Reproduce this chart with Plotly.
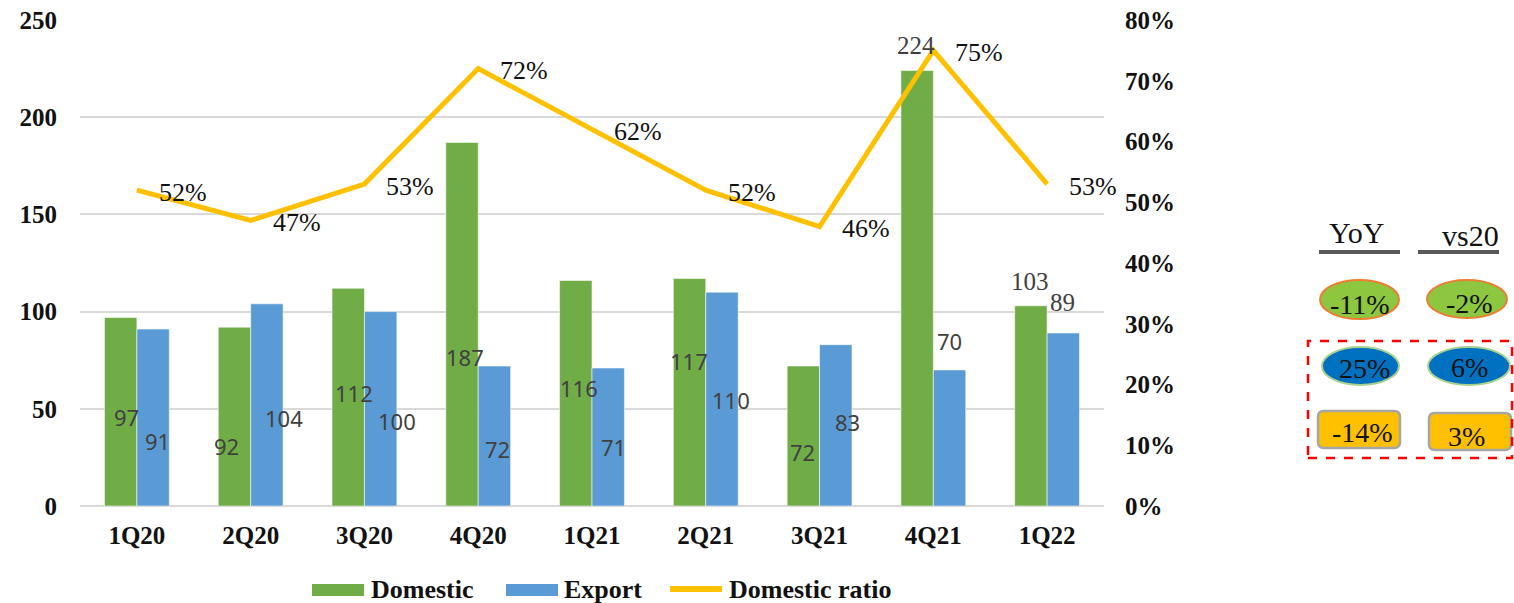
import plotly.graph_objects as go

# Quarterly volumes and domestic share
quarters = ["1Q20", "2Q20", "3Q20", "4Q20", "1Q21", "2Q21", "3Q21", "4Q21", "1Q22"]
domestic = [97, 92, 112, 187, 116, 117, 72, 224, 103]
export = [91, 104, 100, 72, 71, 110, 83, 70, 89]
domestic_ratio = [0.52, 0.47, 0.53, 0.72, 0.62, 0.52, 0.46, 0.75, 0.53]

# Side panel: changes vs last year and vs 2020
panel_headers = ["YoY", "vs20"]
domestic_change = ["-11%", "-2%"]
export_change = ["25%", "6%"]
ratio_change = ["-14%", "3%"]

# Placement of the value labels (height on left axis, pixel shift from category centre)
dom_label_y = [45.8, 30.9, 58.1, 76.6, 60.7, 74.6, 27.8, 237.1, 115.7]
dom_label_dx = [-10, -24, -10, -13, -13, -17, -17, -17, -17]
exp_label_y = [33.4, 45.3, 43.7, 29.3, 30.4, 54.5, 43.2, 84.9, 104.9]
exp_label_dx = [21, 33, 33, 19, 21, 25, 28, 16, 15]
# Labels set outside the bars use the serif face
dom_label_serif = [False, False, False, False, False, False, False, True, True]
exp_label_serif = [False, False, False, False, False, False, False, False, True]

GREEN = "#70AD47"
BLUE = "#5B9BD5"
GOLD = "#FFC000"
SERIF = "Liberation Serif"
SANS = "Noto Sans"

W, H = 1514, 603
ML, MR, MT, MB = 80, 410, 20, 97
PW, PH = W - ML - MR, H - MT - MB


def px(x):
    return (x - ML) / PW


def py(y):
    return (H - MB - y) / PH


def value_font(serif):
    if serif:
        return dict(family=SERIF, size=25, color="#404040")
    return dict(family=SANS, size=22, color="#404040")


fig = go.Figure()
fig.add_trace(go.Bar(
    x=quarters, y=domestic, name="Domestic",
    marker=dict(color=GREEN, line=dict(color="rgba(255,255,255,0.55)", width=1)),
))
fig.add_trace(go.Bar(
    x=quarters, y=export, name="Export",
    marker=dict(color=BLUE, line=dict(color="rgba(255,255,255,0.55)", width=1)),
))
fig.add_trace(go.Scatter(
    x=quarters, y=domestic_ratio, name="Domestic ratio", yaxis="y2",
    mode="lines", line=dict(color=GOLD, width=5),
))

annotations = []
for q, v, ly, dx, sf in zip(quarters, domestic, dom_label_y, dom_label_dx, dom_label_serif):
    annotations.append(dict(x=q, y=ly, xref="x", yref="y", xshift=dx, text=str(v),
                            xanchor="center", yanchor="middle", showarrow=False,
                            font=value_font(sf)))
for q, v, ly, dx, sf in zip(quarters, export, exp_label_y, exp_label_dx, exp_label_serif):
    annotations.append(dict(x=q, y=ly, xref="x", yref="y", xshift=dx, text=str(v),
                            xanchor="center", yanchor="middle", showarrow=False,
                            font=value_font(sf)))
for q, r in zip(quarters, domestic_ratio):
    annotations.append(dict(x=q, y=r, xref="x", yref="y2", xshift=46, yshift=-2,
                            text=f"{round(r * 100)}%", showarrow=False,
                            xanchor="center", yanchor="middle",
                            font=dict(family=SERIF, size=26, color="#111111")))

shapes = []

# Custom legend along the bottom
legend_font = dict(family=SERIF, size=26, color="#111111", weight="bold")
shapes.append(dict(type="rect", xref="paper", yref="paper", x0=px(312), x1=px(364),
                   y0=py(596), y1=py(584), fillcolor=GREEN, line=dict(width=0)))
annotations.append(dict(x=px(369), y=py(590), xref="paper", yref="paper", text="Domestic",
                        xanchor="left", yanchor="middle", showarrow=False, font=legend_font))
shapes.append(dict(type="rect", xref="paper", yref="paper", x0=px(506), x1=px(558),
                   y0=py(596), y1=py(584), fillcolor=BLUE, line=dict(width=0)))
annotations.append(dict(x=px(562), y=py(590), xref="paper", yref="paper", text="Export",
                        xanchor="left", yanchor="middle", showarrow=False, font=legend_font))
shapes.append(dict(type="line", xref="paper", yref="paper", x0=px(670), x1=px(722),
                   y0=py(589), y1=py(589), line=dict(color=GOLD, width=6)))
annotations.append(dict(x=px(727), y=py(590), xref="paper", yref="paper", text="Domestic ratio",
                        xanchor="left", yanchor="middle", showarrow=False, font=legend_font))

# Side panel
panel_font = dict(family=SERIF, size=28, color="#111111")
header_pos = [(1356, 232), (1470, 235)]
underline_x = [(1319, 1400), (1418, 1499)]
for h, (hx, hy), (ux0, ux1) in zip(panel_headers, header_pos, underline_x):
    annotations.append(dict(x=px(hx), y=py(hy), xref="paper", yref="paper", text=h,
                            xanchor="center", yanchor="middle", showarrow=False,
                            font=dict(family=SERIF, size=30, color="#111111")))
    shapes.append(dict(type="line", xref="paper", yref="paper", x0=px(ux0), x1=px(ux1),
                       y0=py(252), y1=py(252), line=dict(color="#595959", width=4)))

row1_boxes = [(1320, 1399, 280, 319), (1427, 1507, 280, 318)]
row1_text = [(1360, 305), (1469, 303)]
for t, (x0, x1, y0, y1), (tx, ty) in zip(domestic_change, row1_boxes, row1_text):
    shapes.append(dict(type="circle", xref="paper", yref="paper", x0=px(x0), x1=px(x1),
                       y0=py(y1), y1=py(y0), fillcolor="#8DC63F",
                       line=dict(color="#ED7D31", width=2)))
    annotations.append(dict(x=px(tx), y=py(ty), xref="paper", yref="paper", text=t,
                            xanchor="center", yanchor="middle", showarrow=False, font=panel_font))

row2_boxes = [(1322, 1399, 347, 385), (1428, 1510, 347, 385)]
row2_text = [(1364, 368), (1469, 367)]
for t, (x0, x1, y0, y1), (tx, ty) in zip(export_change, row2_boxes, row2_text):
    shapes.append(dict(type="circle", xref="paper", yref="paper", x0=px(x0), x1=px(x1),
                       y0=py(y1), y1=py(y0), fillcolor="#0070C0",
                       line=dict(color="#A9D18E", width=2)))
    annotations.append(dict(x=px(tx), y=py(ty), xref="paper", yref="paper", text=t,
                            xanchor="center", yanchor="middle", showarrow=False, font=panel_font))


def rounded_rect(x0, x1, y0, y1, r):
    pts = [
        ("M", (x0 + r, y0)), ("L", (x1 - r, y0)), ("Q", (x1, y0), (x1, y0 + r)),
        ("L", (x1, y1 - r)), ("Q", (x1, y1), (x1 - r, y1)),
        ("L", (x0 + r, y1)), ("Q", (x0, y1), (x0, y1 - r)),
        ("L", (x0, y0 + r)), ("Q", (x0, y0), (x0 + r, y0)),
    ]
    parts = []
    for cmd, *coords in pts:
        parts.append(cmd + " ".join(f"{px(a):.5f},{py(b):.5f}" for a, b in coords))
    return " ".join(parts) + " Z"


row3_boxes = [(1318, 1400, 411, 448), (1429, 1511, 413, 450)]
row3_text = [(1362, 432), (1466, 436)]
for t, (x0, x1, y0, y1), (tx, ty) in zip(ratio_change, row3_boxes, row3_text):
    shapes.append(dict(type="path", xref="paper", yref="paper", path=rounded_rect(x0, x1, y0, y1, 6),
                       fillcolor=GOLD, line=dict(color="#A6A6A6", width=2.5)))
    annotations.append(dict(x=px(tx), y=py(ty), xref="paper", yref="paper", text=t,
                            xanchor="center", yanchor="middle", showarrow=False, font=panel_font))

# Dashed frame round the export and ratio rows
shapes.append(dict(type="rect", xref="paper", yref="paper", x0=px(1308), x1=px(1512),
                   y0=py(458), y1=py(341), line=dict(color="#FF0000", width=2.5, dash="dash"),
                   fillcolor="rgba(0,0,0,0)"))

tick_font = dict(family=SERIF, size=25, color="#111111", weight="bold")
fig.update_layout(
    width=W, height=H,
    margin=dict(l=ML, r=MR, t=MT, b=MB, pad=0, autoexpand=False),
    paper_bgcolor="white", plot_bgcolor="white",
    barmode="group", bargap=0.43, bargroupgap=0,
    showlegend=False,
    xaxis=dict(type="category", range=[-0.5, len(quarters) - 0.5], tickfont=tick_font,
               showgrid=False, ticks="", ticklabelstandoff=12, showline=False,
               zeroline=False, automargin=False),
    yaxis=dict(range=[0, 250], dtick=50, tickfont=tick_font, showgrid=True,
               gridcolor="#D9D9D9", gridwidth=1.5, zeroline=True, zerolinecolor="#D9D9D9",
               zerolinewidth=1.5, ticks="", ticklabelstandoff=22, automargin=False),
    yaxis2=dict(range=[0, 0.8], dtick=0.1, tickformat=".0%", overlaying="y", side="right",
                tickfont=tick_font, showgrid=False, zeroline=False, ticks="",
                ticklabelstandoff=20, automargin=False),
    annotations=annotations,
    shapes=shapes,
)

fig.write_html("out.html")
